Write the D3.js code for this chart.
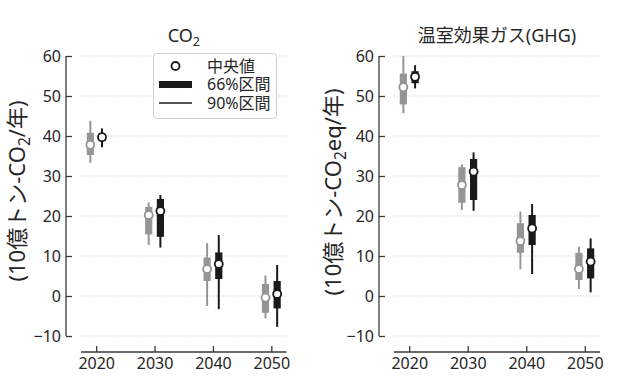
<!DOCTYPE html>
<html><head><meta charset="utf-8">
<script src="https://cdn.jsdelivr.net/npm/d3@7"></script>
<style>
body{margin:0;background:#fff;}
svg text{font-family:"Noto Sans","Noto Sans CJK JP",sans-serif;fill:#262626;}
</style></head>
<body><svg id="c" width="632" height="384"></svg>
<script>
const years = [2020, 2030, 2040, 2050];
const yTicks = [-10, 0, 10, 20, 30, 40, 50, 60];
// CO2, gray series
const co2GrayMed  = [37.8, 20.25, 6.75, -0.4];
const co2GrayLo66 = [35.25, 15.4, 3.75, -4.2];
const co2GrayHi66 = [40.8, 22.3, 9.6, 3.0];
const co2GrayLo90 = [33.3, 12.75, -2.5, -5.6];
const co2GrayHi90 = [43.8, 23.4, 13.2, 5.1];
// CO2, black series
const co2BlackMed  = [39.7, 21.25, 8.0, 0.5];
const co2BlackLo66 = [38.8, 14.8, 4.25, -3.1];
const co2BlackHi66 = [40.6, 24.25, 10.9, 3.75];
const co2BlackLo90 = [37.2, 12.1, -3.3, -7.7];
const co2BlackHi90 = [41.9, 25.25, 15.25, 7.75];
// GHG, gray series
const ghgGrayMed  = [52.2, 27.75, 13.75, 6.75];
const ghgGrayLo66 = [47.9, 23.3, 10.8, 4.0];
const ghgGrayHi66 = [55.6, 32.2, 18.2, 10.8];
const ghgGrayLo90 = [45.7, 21.5, 6.7, 1.75];
const ghgGrayHi90 = [60.0, 32.9, 21.1, 12.3];
// GHG, black series
const ghgBlackMed  = [54.8, 31.1, 16.9, 8.6];
const ghgBlackLo66 = [53.2, 24.0, 12.75, 4.4];
const ghgBlackHi66 = [56.2, 34.25, 20.25, 11.9];
const ghgBlackLo90 = [51.9, 21.3, 5.5, 0.9];
const ghgBlackHi90 = [57.7, 35.9, 23.0, 14.4];

const legendLabels = ["中央値", "66%区間", "90%区間"];
const GRAY = "#959595", BLACK = "#1a1a1a", AXIS = "#3a3a3a";

const svg = d3.select("#c");
const y = d3.scaleLinear().domain([-10, 60]).range([336, 56]);

function panel(opt) {
  const x = d3.scaleLinear().domain([2017.4, 2052.6]).range([opt.x0, opt.x1]);
  const g = svg.append("g");
  // grid
  g.selectAll("line.grid").data(yTicks).join("line")
    .attr("x1", opt.x0).attr("x2", opt.x1)
    .attr("y1", d => y(d)).attr("y2", d => y(d))
    .attr("stroke", "#c8c8c8").attr("stroke-width", 1).attr("stroke-dasharray", "1,2");
  // y axis
  const ya = g.append("g").attr("transform", `translate(${opt.spine},0)`)
    .call(d3.axisLeft(y).tickValues(yTicks).tickSize(-6).tickPadding(5));
  ya.select(".domain").remove();
  ya.append("line").attr("x1",0).attr("x2",0).attr("y1", y(-10)).attr("y2", y(60))
    .attr("stroke", AXIS).attr("stroke-width", 1.3);
  ya.selectAll(".tick line").attr("stroke", AXIS).attr("stroke-width", 1.3);
  ya.selectAll("text").style("font-size", "16px").attr("fill", "#262626");
  // x axis
  const xa = g.append("g").attr("transform", `translate(0,352)`)
    .call(d3.axisBottom(x).tickValues(years).tickFormat(d3.format("d")).tickSize(-6).tickPadding(6));
  xa.select(".domain").remove();
  xa.append("line").attr("x1", opt.x0).attr("x2", opt.x1).attr("y1",0).attr("y2",0)
    .attr("stroke", AXIS).attr("stroke-width", 1.3);
  xa.selectAll(".tick line").attr("stroke", AXIS).attr("stroke-width", 1.3);
  xa.selectAll("text").style("font-size", "16px").attr("fill", "#262626");

  // series
  opt.series.forEach(s => {
    const sg = g.append("g");
    years.forEach((yr, i) => {
      const cx = x(yr + s.off);
      sg.append("line").attr("x1", cx).attr("x2", cx)
        .attr("y1", y(s.lo90[i])).attr("y2", y(s.hi90[i]))
        .attr("stroke", s.color).attr("stroke-width", 2);
      sg.append("rect").attr("x", cx - 3.6).attr("width", 7.2)
        .attr("y", y(s.hi66[i])).attr("height", y(s.lo66[i]) - y(s.hi66[i]))
        .attr("fill", s.color);
      sg.append("circle").attr("cx", cx).attr("cy", y(s.med[i])).attr("r", 4)
        .attr("fill", "#fff").attr("stroke", s.color).attr("stroke-width", 1.8);
    });
  });

  // title
  const t = g.append("text").attr("x", (opt.x0 + opt.x1) / 2).attr("y", 42)
    .attr("text-anchor", "middle").style("font-size", "18px");
  opt.title(t);
  // y label
  const yl = g.append("text").attr("transform", `translate(${opt.ylx},${opt.yly}) rotate(-90)`)
    .attr("text-anchor", "middle").style("font-size", "22px");
  opt.ylabel(yl);
}

panel({
  x0: 81, x1: 286.5, spine: 66, ylx: 25, yly: 191,
  series: [
    {off: -1, color: GRAY, med: co2GrayMed, lo66: co2GrayLo66, hi66: co2GrayHi66, lo90: co2GrayLo90, hi90: co2GrayHi90},
    {off: 1, color: BLACK, med: co2BlackMed, lo66: co2BlackLo66, hi66: co2BlackHi66, lo90: co2BlackLo90, hi90: co2BlackHi90}
  ],
  title: t => { t.append("tspan").text("CO"); t.append("tspan").attr("dy", 4).style("font-size", "12.5px").text("2"); },
  ylabel: t => { t.append("tspan").text("(10億トン-CO"); t.append("tspan").attr("dy", 5).style("font-size", "15.5px").text("2");
                 t.append("tspan").attr("dy", -5).text("/年)"); }
});
panel({
  x0: 394, x1: 600, spine: 379, ylx: 341, yly: 192,
  series: [
    {off: -1, color: GRAY, med: ghgGrayMed, lo66: ghgGrayLo66, hi66: ghgGrayHi66, lo90: ghgGrayLo90, hi90: ghgGrayHi90},
    {off: 1, color: BLACK, med: ghgBlackMed, lo66: ghgBlackLo66, hi66: ghgBlackHi66, lo90: ghgBlackLo90, hi90: ghgBlackHi90}
  ],
  title: t => { t.text("温室効果ガス(GHG)"); },
  ylabel: t => { t.append("tspan").text("(10億トン-CO"); t.append("tspan").attr("dy", 5).style("font-size", "15.5px").text("2");
                 t.append("tspan").attr("dy", -5).text("eq/年)"); }
});

// legend
const lg = svg.append("g");
lg.append("rect").attr("x", 153.5).attr("y", 53.5).attr("width", 123).attr("height", 65).attr("rx", 3)
  .attr("fill", "#fff").attr("fill-opacity", 0.85).attr("stroke", "#d0d0d0");
const rowY = [66, 84.5, 103];
lg.append("circle").attr("cx", 175.5).attr("cy", rowY[0]).attr("r", 4).attr("fill", "#fff")
  .attr("stroke", BLACK).attr("stroke-width", 1.8);
lg.append("rect").attr("x", 159).attr("y", rowY[1] - 3.5).attr("width", 33).attr("height", 7).attr("fill", BLACK);
lg.append("line").attr("x1", 159).attr("x2", 192).attr("y1", rowY[2]).attr("y2", rowY[2])
  .attr("stroke", BLACK).attr("stroke-width", 1.5);
lg.selectAll("text.lab").data(legendLabels).join("text")
  .attr("x", 207).attr("y", (d, i) => rowY[i]).attr("dy", "0.35em")
  .style("font-size", "16px").text(d => d);
</script></body></html>
